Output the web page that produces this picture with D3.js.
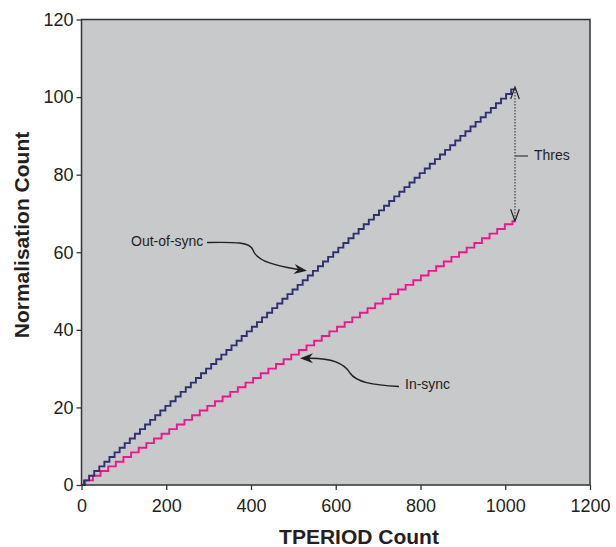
<!DOCTYPE html>
<html>
<head>
<meta charset="utf-8">
<script src="https://cdn.jsdelivr.net/npm/d3@7"></script>
<style>
  html, body { margin: 0; padding: 0; background: #ffffff; }
  svg { display: block; font-family: "Liberation Sans", Arial, sans-serif; }
</style>
</head>
<body>
<svg id="chart" width="616" height="547"></svg>
<script>
// Axis ticks
const xTicks = [0, 200, 400, 600, 800, 1000, 1200];
const yTicks = [0, 20, 40, 60, 80, 100, 120];

// Out-of-sync counter: TPERIOD at each step and the count it steps to
const outOfSyncT = [0,6,18,30,42,54,66,78,90,102,114,126,138,150,162,174,186,198,210,222,234,
  246,258,270,282,294,306,318,330,342,354,366,378,390,402,414,426,438,450,462,474,
  486,498,510,522,534,546,558,570,582,594,606,618,630,642,654,666,678,690,702,714,
  726,738,750,762,774,786,798,810,822,834,846,858,870,882,894,906,918,930,942,954,
  966,978,990,1002,1014,1023];
const outOfSyncCount = [0,1.2,2.4,3.6,4.8,6,7.2,8.4,9.6,10.8,12,13.2,14.4,15.6,16.8,18,19.2,20.4,21.6,22.8,24,
  25.2,26.4,27.6,28.8,30,31.2,32.4,33.6,34.8,36,37.2,38.4,39.6,40.8,42,43.2,44.4,45.6,46.8,48,
  49.2,50.4,51.6,52.8,54,55.2,56.4,57.6,58.8,60,61.2,62.4,63.6,64.8,66,67.2,68.4,69.6,70.8,72,
  73.2,74.4,75.6,76.8,78,79.2,80.4,81.6,82.8,84,85.2,86.4,87.6,88.8,90,91.2,92.4,93.6,94.8,96,
  97.2,98.4,99.6,100.8,102,102];

// In-sync counter
const inSyncT = [0,9,27,45,63,81,99,117,135,153,171,189,207,225,243,261,279,297,315,333,351,
  369,387,405,423,441,459,477,495,513,531,549,567,585,603,621,639,657,675,693,711,
  729,747,765,783,801,819,837,855,873,891,909,927,945,963,981,999,1017,1023];
const inSyncCount = [0,1.2,2.4,3.6,4.8,6,7.2,8.4,9.6,10.8,12,13.2,14.4,15.6,16.8,18,19.2,20.4,21.6,22.8,24,
  25.2,26.4,27.6,28.8,30,31.2,32.4,33.6,34.8,36,37.2,38.4,39.6,40.8,42,43.2,44.4,45.6,46.8,48,
  49.2,50.4,51.6,52.8,54,55.2,56.4,57.6,58.8,60,61.2,62.4,63.6,64.8,66,67.2,68,68];

// Threshold span drawn between the two counters' final values
const thresTop = 102.6;
const thresBottom = 68;
const thresAt = 1023;

const ink = "#231f20";
const svg = d3.select("#chart");

const x = d3.scaleLinear().domain([0, 1200]).range([81.5, 590]);
const y = d3.scaleLinear().domain([0, 120]).range([485, 19.5]);

// Plot area background
svg.append("rect")
  .attr("x", x(0)).attr("y", y(120))
  .attr("width", x(1200) - x(0)).attr("height", y(0) - y(120))
  .attr("fill", "#c8c9cb");

// Step series
const stepLine = d3.line().x(d => x(d[0])).y(d => y(d[1])).curve(d3.curveStepAfter);
const outOfSync = outOfSyncT.map((t, i) => [t, outOfSyncCount[i]]);
const inSync = inSyncT.map((t, i) => [t, inSyncCount[i]]);

svg.append("path").datum(inSync)
  .attr("d", stepLine).attr("fill", "none")
  .attr("stroke", "#ec178c").attr("stroke-width", 1.9);
svg.append("path").datum(outOfSync)
  .attr("d", stepLine).attr("fill", "none")
  .attr("stroke", "#2e306f").attr("stroke-width", 1.9);

// Frame
svg.append("rect")
  .attr("x", x(0)).attr("y", y(120))
  .attr("width", x(1200) - x(0)).attr("height", y(0) - y(120))
  .attr("fill", "none").attr("stroke", "#333").attr("stroke-width", 1.5);

// Axes
const xAxis = svg.append("g").attr("transform", `translate(0,${y(0)})`)
  .call(d3.axisBottom(x).tickValues(xTicks).tickSize(5).tickPadding(9).tickFormat(d3.format("d")));
const yAxis = svg.append("g").attr("transform", `translate(${x(0)},0)`)
  .call(d3.axisLeft(y).tickValues(yTicks).tickSize(5).tickPadding(3).tickFormat(d3.format("d")));
[xAxis, yAxis].forEach(g => {
  g.select(".domain").remove();
  g.selectAll(".tick line").attr("stroke", "#333").attr("stroke-width", 1.3);
  g.selectAll(".tick text").attr("fill", ink)
    .style("font-family", '"Liberation Sans", Arial, sans-serif').style("font-size", "18px");
});

// Axis titles
svg.append("text")
  .attr("x", 359).attr("y", 544).attr("text-anchor", "middle")
  .attr("fill", ink).style("font-size", "21px").style("font-weight", "bold")
  .text("TPERIOD Count");
svg.append("text")
  .attr("transform", "translate(28.5,235) rotate(-90)").attr("text-anchor", "middle")
  .attr("fill", ink).style("font-size", "21px").style("font-weight", "bold")
  .text("Normalisation Count");

// Filled notched arrowhead at (tx,ty) pointing along angle a (radians)
function arrowHead(tx, ty, a) {
  const len = 13, half = 5, notch = 9;
  const pts = [
    [0, 0], [-len, -half], [-notch, 0], [-len, half]
  ].map(([px, py]) => [tx + px * Math.cos(a) - py * Math.sin(a), ty + px * Math.sin(a) + py * Math.cos(a)]);
  svg.append("path").attr("d", "M" + pts.map(p => p.join(",")).join("L") + "Z").attr("fill", ink);
}

// Out-of-sync callout
svg.append("text").attr("x", 131).attr("y", 246)
  .attr("fill", ink).style("font-size", "14px").text("Out-of-sync");
svg.append("path")
  .attr("d", "M207,242.5 C236,242 250,242 253,250 C257,262 278,266 298,269.5")
  .attr("fill", "none").attr("stroke", ink).attr("stroke-width", 1.4);
arrowHead(307, 270.8, Math.atan2(1.3, 9));

// In-sync callout
svg.append("text").attr("x", 405).attr("y", 389)
  .attr("fill", ink).style("font-size", "14px").text("In-sync");
svg.append("path")
  .attr("d", "M399,386.5 C372,385 356,382 350,373 C343,361 326,358 308,358.3")
  .attr("fill", "none").attr("stroke", ink).attr("stroke-width", 1.4);
arrowHead(300, 358.2, Math.PI);

// Threshold span with open arrowheads at both ends
const tx = x(thresAt);
const yTop = y(thresTop), yBot = y(thresBottom);
svg.append("line")
  .attr("x1", tx).attr("x2", tx).attr("y1", yTop + 2).attr("y2", yBot - 2)
  .attr("stroke", "#555").attr("stroke-width", 1.4).attr("stroke-dasharray", "1.5,1.5");
svg.append("path")
  .attr("d", `M${tx - 4.3},${yTop + 12} L${tx},${yTop} L${tx + 4.3},${yTop + 12}`)
  .attr("fill", "none").attr("stroke", ink).attr("stroke-width", 1.2);
svg.append("path")
  .attr("d", `M${tx - 4.3},${yBot - 12} L${tx},${yBot} L${tx + 4.3},${yBot - 12}`)
  .attr("fill", "none").attr("stroke", ink).attr("stroke-width", 1.2);
const yMid = 156;
svg.append("line")
  .attr("x1", tx).attr("x2", tx + 13).attr("y1", yMid).attr("y2", yMid)
  .attr("stroke", "#555").attr("stroke-width", 1.5);
svg.append("text").attr("x", tx + 19).attr("y", yMid + 3.5)
  .attr("fill", ink).style("font-size", "14px").text("Thres");
</script>
</body>
</html>
